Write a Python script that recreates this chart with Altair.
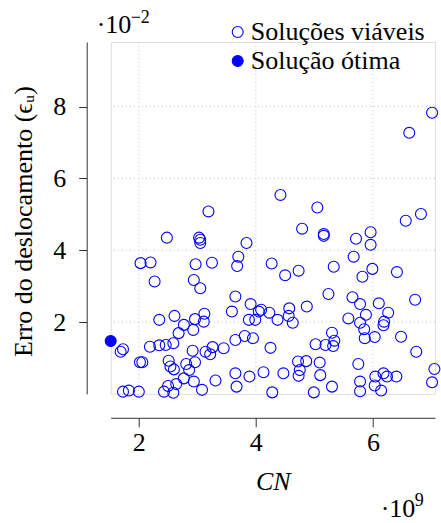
import altair as alt
import pandas as pd

# CN values (x 1e9) and displacement error (x 1e-2)
cn_feasible = [
    7.01, 6.62, 4.42, 3.19, 5.05, 6.56, 6.82, 2.48, 3.03, 3.05, 3.05, 3.84, 2.03, 2.20, 2.97, 3.25,
    3.70, 3.68, 4.27, 4.79, 5.16, 5.16, 5.71, 5.96, 5.96, 5.67, 4.50, 4.73, 5.33, 5.99, 6.41, 5.82,
    5.24, 5.65, 5.78, 6.10, 6.72, 4.87, 4.57, 4.56, 4.63, 4.37, 4.23, 4.09, 5.88, 5.58, 5.78, 6.26,
    6.19, 6.18, 5.85, 5.86, 6.03, 6.48, 6.74, 7.05, 7.01, 4.25, 5.30, 5.34, 5.32, 5.19, 5.02, 5.75,
    4.13, 4.47, 4.72, 4.86, 5.09, 4.75, 4.73, 5.10, 5.30, 4.99, 4.28, 5.78, 5.78, 6.03, 6.14, 6.04,
    6.18, 6.24, 6.40, 1.69, 1.73, 2.35, 2.19, 2.35, 2.27, 2.94, 3.05, 3.65, 3.59, 3.91, 3.88, 3.99,
    4.05, 2.61, 2.77, 2.96, 3.12, 3.11, 2.93, 2.68, 2.59, 2.46, 2.92, 3.14, 3.22, 3.26, 3.45, 3.65,
    3.81, 3.95, 2.06, 2.02, 2.51, 2.54, 2.60, 2.81, 2.96, 2.86, 2.77, 2.64, 2.50, 2.43, 2.59, 2.94,
    3.08, 3.31, 3.65, 3.67, 3.89, 1.73, 1.83, 2.00,
]
err_feasible = [
    7.83, 7.27, 5.54, 5.08, 5.19, 4.82, 5.01, 4.35, 4.35, 4.29, 4.20, 4.20, 3.64, 3.66, 3.61, 3.65,
    3.82, 3.56, 3.63, 4.60, 4.45, 4.40, 4.32, 4.50, 4.15, 3.82, 3.30, 3.43, 3.54, 3.48, 3.39, 3.26,
    2.78, 2.69, 2.50, 2.52, 2.62, 2.43, 2.38, 2.17, 1.98, 2.06, 2.26, 2.34, 2.20, 2.10, 1.98, 2.26,
    2.01, 1.91, 1.80, 1.55, 1.58, 1.59, 1.17, 0.69, 0.32, 1.28, 1.70, 1.48, 1.33, 1.36, 1.38, 0.83,
    0.60, 0.57, 0.90, 0.91, 0.87, 0.66, 0.50, 0.52, 0.20, 0.04, 0.04, 0.34, 0.07, 0.23, 0.09, 0.48,
    0.57, 0.48, 0.48, 1.17, 1.24, 2.06, 1.31, 1.35, 3.13, 3.17, 2.94, 2.71, 2.29, 2.50, 2.06, 2.06,
    2.29, 2.17, 1.92, 2.08, 2.23, 2.01, 1.78, 1.69, 1.41, 1.36, 1.20, 1.17, 1.10, 1.30, 1.27, 1.50,
    1.61, 1.55, 0.88, 0.88, 0.92, 0.76, 0.68, 0.83, 0.88, 0.66, 0.43, 0.27, 0.22, 0.06, 0.03, 0.34,
    0.11, 0.37, 0.57, 0.20, 0.48, 0.06, 0.09, 0.06,
]
cn_optimal = [1.52]
err_optimal = [1.47]

series_names = ["Soluções viáveis", "Solução ótima"]
x_ticks = [2, 4, 6]
y_ticks = [2, 4, 6, 8]

df = pd.DataFrame({
    "cn": cn_feasible + cn_optimal,
    "err": err_feasible + err_optimal,
    "serie": [series_names[0]] * len(cn_feasible) + [series_names[1]] * len(cn_optimal),
})

FONT = "Liberation Serif"
FS = 26
BLUE = "#0000ff"
AXC = "#333333"
GRID = "#c4c4c4"

W, H = 324.3, 351.8
xscale = alt.Scale(domain=[1.52, 7.06], nice=False, zero=False)
yscale = alt.Scale(domain=[0, 9.8], nice=False, zero=False)

x_axis = alt.Axis(values=x_ticks, offset=24, tickSize=9, tickColor=AXC,
                  domainColor=AXC, labelFont=FONT, labelFontSize=FS,
                  labelColor="black", labelPadding=3, format="d",
                  grid=False,
                  title="CN", titleFont=FONT, titleFontSize=FS,
                  titleFontStyle="italic", titleFontWeight="normal",
                  titleColor="black", titleBaseline="alphabetic",
                  titleY=72)
y_axis = alt.Axis(values=y_ticks, offset=24, tickSize=8, tickColor=AXC,
                  domainColor=AXC, labelFont=FONT, labelFontSize=FS,
                  labelColor="black", labelPadding=13, format="d",
                  grid=False,
                  title="Erro do deslocamento (ϵᵤ)", titleFont=FONT,
                  titleFontSize=FS, titleFontWeight="normal",
                  titleColor="black", titleAngle=270,
                  titleBaseline="alphabetic", titleAlign="center",
                  titleX=-55, titleY=179)

vgrid = alt.Chart(pd.DataFrame({"v": x_ticks})).mark_rule(
    color=GRID, strokeDash=[1, 3], strokeWidth=1
).encode(x=alt.X("v:Q", scale=xscale, axis=x_axis))
hgrid = alt.Chart(pd.DataFrame({"v": y_ticks})).mark_rule(
    color=GRID, strokeDash=[1, 3], strokeWidth=1
).encode(y=alt.Y("v:Q", scale=yscale, axis=y_axis))

points = alt.Chart(df).mark_point(
    filled=True, size=120, strokeWidth=1.1, stroke=BLUE, opacity=1
).encode(
    x=alt.X("cn:Q", scale=xscale, axis=x_axis),
    y=alt.Y("err:Q", scale=yscale, axis=y_axis),
    fill=alt.Fill("serie:N",
                  scale=alt.Scale(domain=series_names, range=["transparent", BLUE]),
                  legend=alt.Legend(title=None, orient="none", legendX=114, legendY=-23,
                                    labelFont=FONT, labelFontSize=FS, labelColor="black",
                                    symbolSize=120, symbolStrokeColor=BLUE,
                                    symbolStrokeWidth=1.1, symbolType="circle",
                                    padding=0, rowPadding=3, labelOffset=0,
                                    labelLimit=400)),
)

exp_y_base = alt.Chart(pd.DataFrame({"t": ["·10"]})).mark_text(
    font=FONT, fontSize=FS, align="left", baseline="alphabetic", color="black"
).encode(text="t:N", x=alt.value(-14), y=alt.value(-9))
exp_y_sup = alt.Chart(pd.DataFrame({"t": ["−2"]})).mark_text(
    font=FONT, fontSize=18, align="left", baseline="alphabetic", color="black"
).encode(text="t:N", x=alt.value(20), y=alt.value(-19))

exp_x_base = alt.Chart(pd.DataFrame({"t": ["·10"]})).mark_text(
    font=FONT, fontSize=FS, align="left", baseline="alphabetic", color="black"
).encode(text="t:N", x=alt.value(270), y=alt.value(475))
exp_x_sup = alt.Chart(pd.DataFrame({"t": ["9"]})).mark_text(
    font=FONT, fontSize=18, align="left", baseline="alphabetic", color="black"
).encode(text="t:N", x=alt.value(304), y=alt.value(464))

chart = alt.layer(vgrid, hgrid, points, exp_y_base, exp_y_sup, exp_x_base, exp_x_sup).properties(
    width=W, height=H,
    padding={"left": 110.7, "top": 42, "right": 6, "bottom": 129.2},
    autosize=alt.AutoSizeParams(type="none"),
).configure_view(stroke=None).configure(background="white")

chart.save("out.html", embed_options={"renderer": "svg", "actions": False})
